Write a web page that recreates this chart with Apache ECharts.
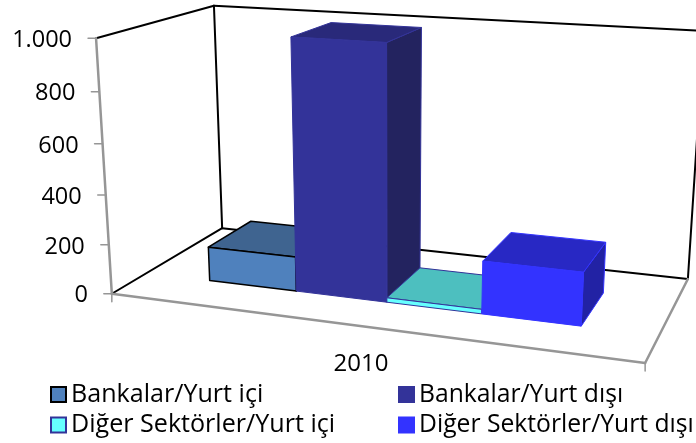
<!DOCTYPE html>
<html><head><meta charset="utf-8">
<style>html,body{margin:0;padding:0;background:#fff;overflow:hidden}#c{width:696px;height:443px}</style>
<script src="https://cdn.jsdelivr.net/npm/echarts@6/dist/echarts.min.js"></script>
</head><body><div id="c"></div>
<script>
var categories = ['2010'];
var seriesNames = ['Bankalar/Yurt içi','Bankalar/Yurt dışı','Diğer Sektörler/Yurt içi','Diğer Sektörler/Yurt dışı'];
var bankalarYurtIci = [140];
var bankalarYurtDisi = [1000];
var digerYurtIci = [18];
var digerYurtDisi = [208];
var tickValues = [0,200,400,600,800,1000];
var tickLabels = ['0','200','400','600','800','1.000'];

var FONT = '"Open Sans"';
var FS = 23.5;
// Projection of the chart box (u: along category, v: depth, w: height) fitted to the box corners
var corners = [
 [0,0,0,112,294],[1,0,0,645,363],[0,1,0,222,228],[1,1,0,688,279],
 [0,0,1,96,38],[0,1,1,214,6],[1,1,1,704,31]
];
function fit(){
  var A=[],b=[];
  corners.forEach(function(c){
    var X=c[0],Y=c[1],Z=c[2],x=c[3],y=c[4];
    A.push([X,Y,Z,1,0,0,0,0,-x*X,-x*Y,-x*Z]);b.push(x);
    A.push([0,0,0,0,X,Y,Z,1,-y*X,-y*Y,-y*Z]);b.push(y);
  });
  var n=11,M=[];
  for(var i=0;i<n;i++){M[i]=[];for(var j=0;j<=n;j++){var s=0;for(var r=0;r<A.length;r++)s+=A[r][i]*(j<n?A[r][j]:b[r]);M[i][j]=s;}}
  for(i=0;i<n;i++){
    var p=i;for(r=i+1;r<n;r++)if(Math.abs(M[r][i])>Math.abs(M[p][i]))p=r;
    var t=M[i];M[i]=M[p];M[p]=t;
    for(r=0;r<n;r++){if(r===i)continue;var f=M[r][i]/M[i][i];for(j=i;j<=n;j++)M[r][j]-=f*M[i][j];}
  }
  var P=[];for(i=0;i<n;i++)P[i]=M[i][n]/M[i][i];
  return P;
}
var P=fit();
function proj(u,v,w){
  var d=P[8]*u+P[9]*v+P[10]*w+1;
  return [(P[0]*u+P[1]*v+P[2]*w+P[3])/d,(P[4]*u+P[5]*v+P[6]*w+P[7])/d];
}
var V0=0.29,V1=0.7,GAP=1.5;
var faceStyles=[
 {front:'#4F81BD',top:'#3F6490',side:'#2F4C6E',stroke:'#000000',lw:1.5},
 {front:'#333399',top:'#29297A',side:'#23235F',stroke:'#333399',lw:1},
 {front:'#66FFFF',top:'#4DBFBF',side:'#3D9999',stroke:'#333399',lw:1},
 {front:'#3333FF',top:'#2828C4',side:'#2222A4',stroke:'#3333FF',lw:1}
];
function poly(pts,fill,st){
  return {type:'polygon',shape:{points:pts},style:{fill:fill,stroke:st.stroke,lineWidth:st.lw,lineJoin:'round'}};
}
function renderBar(params,api){
  var cs=params.coordSys, idx=params.seriesIndex-1;
  var val=api.value(1);
  var top=api.coord([api.value(0),val]), base=api.coord([api.value(0),0]);
  var w=(base[1]-top[1])/cs.height;
  var band=api.size([1,0])[0];
  var unit=band/(seriesNames.length+GAP);
  var x0=base[0]-band/2+unit*(GAP/2+idx);
  var u0=(x0-cs.x)/cs.width, u1=(x0+unit-cs.x)/cs.width;
  var st=faceStyles[idx];
  return {type:'group',children:[
    poly([proj(u1,V0,0),proj(u1,V1,0),proj(u1,V1,w),proj(u1,V0,w)],st.side,st),
    poly([proj(u0,V0,w),proj(u1,V0,w),proj(u1,V1,w),proj(u0,V1,w)],st.top,st),
    poly([proj(u0,V0,0),proj(u1,V0,0),proj(u1,V0,w),proj(u0,V0,w)],st.front,st)
  ]};
}
function seg(a,b,color,lw){
  return {type:'line',shape:{x1:a[0],y1:a[1],x2:b[0],y2:b[1]},style:{stroke:color,lineWidth:lw,lineCap:'round'},silent:true};
}
function renderFrame(params,api){
  var cs=params.coordSys, ch=[];
  var K='#000000',G='#969696';
  var a=function(u,v,w){return proj(u,v,w);};
  ch.push(seg(a(0,0,1),a(0,1,1),K,2));
  ch.push(seg(a(0,1,1),a(1,1,1),K,2));
  ch.push(seg(a(0,1,1),a(0,1,0),K,2));
  ch.push(seg(a(1,1,1),a(1,1,0),K,2));
  ch.push(seg(a(0,0,0),a(0,1,0),K,2));
  ch.push(seg(a(0,1,0),a(1,1,0),K,2));
  ch.push(seg(a(0,0,0),a(0,0,1),G,2.5));
  ch.push(seg(a(0,0,0),a(1,0,0),G,2.5));
  ch.push(seg(a(1,0,0),a(1,1,0),G,2.5));
  var fb=a(0,0,0), fr=a(1,0,0);
  ch.push(seg(fb,[fb[0],fb[1]+8],G,1.5));
  ch.push(seg(fr,[fr[0],fr[1]+8],G,1.5));
  tickValues.forEach(function(tv,i){
    var y=api.coord([0,tv])[1];
    var w=(cs.y+cs.height-y)/cs.height;
    var p=a(0,0,w);
    ch.push(seg([p[0]-8,p[1]],p,G,1.5));
    ch.push({type:'text',x:p[0]-24,y:p[1]+2,silent:true,style:{text:tickLabels[i],font:FS+'px '+FONT,fill:'#000',align:'right',verticalAlign:'middle'}});
  });
  return {type:'group',children:ch};
}
function barSeries(i,arr){
  return {type:'custom',name:seriesNames[i],coordinateSystem:'cartesian2d',renderItem:renderBar,
    data:categories.map(function(c,k){return [k,arr[k]];}),clip:false,
    itemStyle:{color:faceStyles[i].front,borderColor:faceStyles[i].stroke,borderWidth:i===0?1.5:1},
    encode:{x:0,y:1}};
}
function legendBlock(left,names,fs){
  return {left:left,top:382,height:120,orient:'vertical',icon:'rect',itemWidth:15,itemHeight:15,itemGap:5.4,padding:0,
    selectedMode:false,data:names,
    textStyle:{fontFamily:'Open Sans',fontSize:fs,color:'#000'}};
}
var chart=echarts.init(document.getElementById('c'),null,{renderer:'canvas'});
chart.setOption({
  animation:false,backgroundColor:'#ffffff',
  grid:{left:112,width:498,top:38,height:256,containLabel:false},
  xAxis:{type:'category',data:categories,axisLine:{show:false},axisTick:{show:false},splitLine:{show:false},
    axisLabel:{margin:58,fontFamily:'Open Sans',fontSize:24,color:'#000'}},
  yAxis:{type:'value',min:0,max:1000,interval:200,axisLine:{show:false},axisTick:{show:false},splitLine:{show:false},axisLabel:{show:false}},
  legend:[legendBlock(50,[seriesNames[0],seriesNames[2]],25.1),legendBlock(398,[seriesNames[1],seriesNames[3]],24.7)],
  series:[
    {type:'custom',name:'frame',coordinateSystem:'cartesian2d',renderItem:renderFrame,data:[[0,0]],clip:false,silent:true,encode:{x:0,y:1}},
    barSeries(0,bankalarYurtIci),barSeries(1,bankalarYurtDisi),barSeries(2,digerYurtIci),barSeries(3,digerYurtDisi)
  ]
});
</script></body></html>
